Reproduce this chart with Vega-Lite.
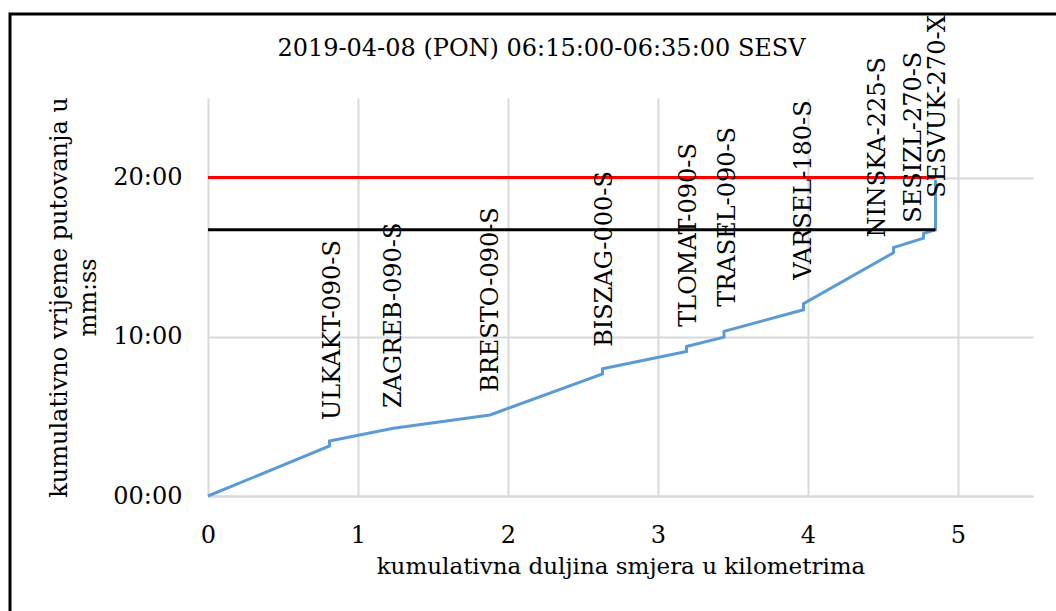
{
  "$schema": "https://vega.github.io/schema/vega-lite/v6.json",
  "width": 825,
  "height": 398,
  "autosize": {"type": "none"},
  "padding": {"left": 208, "top": 98, "right": 23, "bottom": 115},
  "background": "white",
  "config": {
    "font": "DejaVu Serif",
    "view": {"stroke": null},
    "axis": {"labelColor": "#000000", "titleColor": "#000000", "titleFontWeight": "normal"}
  },
  "title": {
    "text": "2019-04-08 (PON) 06:15:00-06:35:00 SESV",
    "font": "DejaVu Serif",
    "fontSize": 24,
    "fontWeight": "normal",
    "color": "#000000",
    "anchor": "middle",
    "dx": -79,
    "offset": -49
  },
  "datasets": {
    "route": [
      {"km": 0, "min": 0},
      {"km": 0.81, "min": 3.14},
      {"km": 0.81, "min": 3.46},
      {"km": 1.236, "min": 4.26},
      {"km": 1.88, "min": 5.09},
      {"km": 2.63, "min": 7.67},
      {"km": 2.63, "min": 7.99},
      {"km": 3.19, "min": 9.08},
      {"km": 3.19, "min": 9.39},
      {"km": 3.44, "min": 9.98},
      {"km": 3.44, "min": 10.34},
      {"km": 3.97, "min": 11.7},
      {"km": 3.97, "min": 12.08},
      {"km": 4.57, "min": 15.28},
      {"km": 4.57, "min": 15.6},
      {"km": 4.77, "min": 16.2},
      {"km": 4.77, "min": 16.48},
      {"km": 4.85, "min": 16.73},
      {"km": 4.85, "min": 19.85}
    ],
    "limits": [
      {"kind": "actual", "min": 16.73, "from": 0, "to": 4.85},
      {"kind": "limit", "min": 20, "from": 0, "to": 4.85}
    ],
    "stops": [
      {"stop": "ULKAKT-090-S", "km": 0.835, "min": 4.78},
      {"stop": "ZAGREB-090-S", "km": 1.24, "min": 5.53},
      {"stop": "BRESTO-090-S", "km": 1.885, "min": 6.54},
      {"stop": "BISZAG-000-S", "km": 2.645, "min": 9.37},
      {"stop": "TLOMAT-090-S", "km": 3.205, "min": 10.63},
      {"stop": "TRASEL-090-S", "km": 3.465, "min": 11.89},
      {"stop": "VARSEL-180-S", "km": 3.975, "min": 13.58},
      {"stop": "NINSKA-225-S", "km": 4.465, "min": 16.23},
      {"stop": "SESIZL-270-S", "km": 4.705, "min": 17.17},
      {"stop": "SESVUK-270-X", "km": 4.865, "min": 18.74}
    ]
  },
  "layer": [
    {
      "data": {"name": "route"},
      "mark": {"type": "line", "color": "#5B9BD5", "strokeWidth": 3, "interpolate": "linear"},
      "encoding": {
        "x": {
          "field": "km",
          "type": "quantitative",
          "scale": {"domain": [0, 5.5], "nice": false, "zero": false},
          "axis": {
            "values": [0, 1, 2, 3, 4, 5],
            "format": "d",
            "labelFlush": false,
            "grid": true,
            "gridColor": "#D9D9D9",
            "gridWidth": 2,
            "domain": true,
            "domainColor": "#D9D9D9",
            "domainWidth": 2,
            "ticks": false,
            "labelFontSize": 24,
            "labelPadding": 27,
            "labelFont": "DejaVu Serif",
            "title": "kumulativna duljina smjera u kilometrima",
            "titleFont": "DejaVu Serif",
            "titleFontSize": 23,
            "titlePadding": 8
          }
        },
        "y": {
          "field": "min",
          "type": "quantitative",
          "scale": {"domain": [0, 25], "nice": false, "zero": false},
          "axis": {
            "values": [0, 10, 20],
            "labelExpr": "(datum.value < 10 ? '0' : '') + datum.value + ':00'",
            "grid": true,
            "gridColor": "#D9D9D9",
            "gridWidth": 2,
            "domain": false,
            "ticks": false,
            "labelFontSize": 24,
            "labelPadding": 26,
            "labelFont": "DejaVu Serif",
            "title": ["kumulativno vrijeme putovanja u", "mm:ss"],
            "titleFont": "DejaVu Serif",
            "titleFontSize": 24,
            "titleLineHeight": 29,
            "titlePadding": 12
          }
        }
      }
    },
    {
      "data": {"name": "limits"},
      "mark": {"type": "rule", "strokeWidth": 3},
      "encoding": {
        "x": {"field": "from", "type": "quantitative"},
        "x2": {"field": "to"},
        "y": {"field": "min", "type": "quantitative"},
        "color": {
          "field": "kind",
          "type": "nominal",
          "scale": {"domain": ["actual", "limit"], "range": ["#000000", "#FF0000"]},
          "legend": null
        }
      }
    },
    {
      "data": {"name": "stops"},
      "mark": {"type": "text", "angle": 270, "align": "left", "baseline": "middle", "font": "DejaVu Serif", "fontSize": 24, "color": "#000000"},
      "encoding": {
        "x": {"field": "km", "type": "quantitative"},
        "y": {"field": "min", "type": "quantitative"},
        "text": {"field": "stop"}
      }
    },
    {
      "data": {"values": [{}]},
      "mark": {"type": "rect", "fill": null, "stroke": "#000000", "strokeWidth": 3, "clip": false},
      "encoding": {
        "x": {"datum": -1.32, "type": "quantitative"},
        "x2": {"datum": 6.8},
        "y": {"datum": 30.28, "type": "quantitative"},
        "y2": {"datum": -10}
      }
    }
  ]
}
